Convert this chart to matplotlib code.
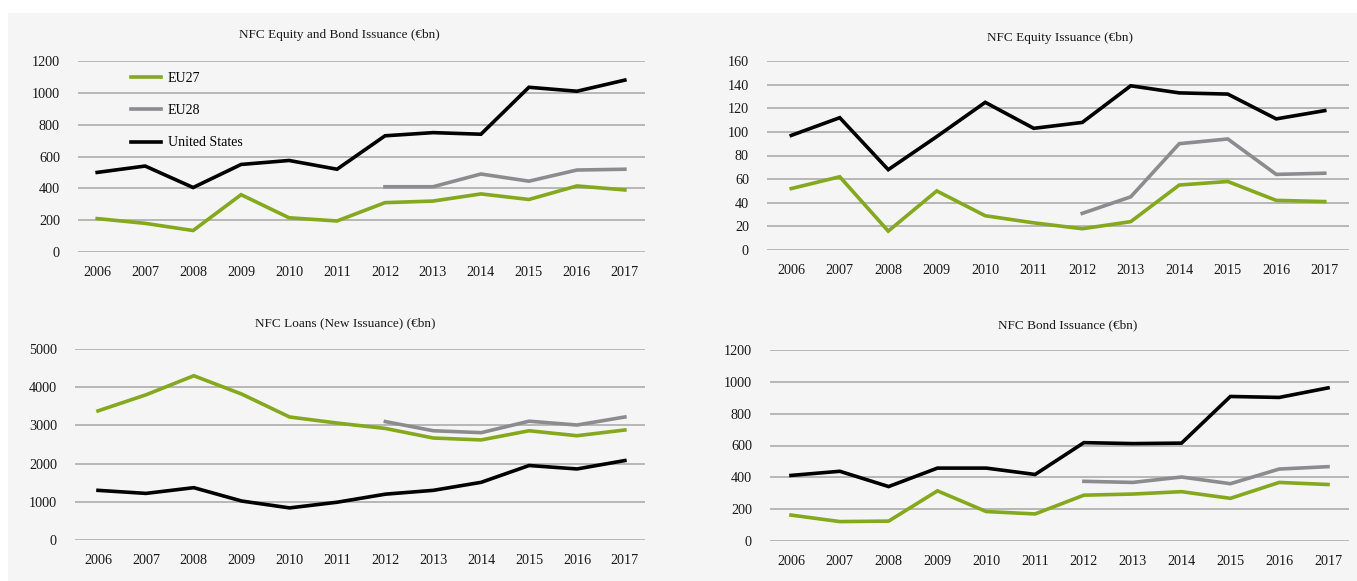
import matplotlib
matplotlib.use("Agg")
import matplotlib.pyplot as plt
from matplotlib.patches import Rectangle

years = [2006, 2007, 2008, 2009, 2010, 2011, 2012, 2013, 2014, 2015, 2016, 2017]
years_eu28 = [2012, 2013, 2014, 2015, 2016, 2017]

# NFC Equity and Bond Issuance
total_eu27 = [210, 180, 135, 360, 215, 195, 310, 320, 365, 330, 415, 390]
total_eu28 = [410, 410, 490, 445, 515, 520]
total_us = [500, 540, 405, 550, 575, 520, 730, 750, 740, 1035, 1010, 1080]

# NFC Equity Issuance
equity_eu27 = [52, 62, 16, 50, 29, 23, 18, 24, 55, 58, 42, 41]
equity_eu28 = [31, 45, 90, 94, 64, 65]
equity_us = [97, 112, 68, 96, 125, 103, 108, 139, 133, 132, 111, 118]

# NFC Loans (New Issuance)
loans_eu27 = [3380, 3800, 4300, 3820, 3220, 3060, 2920, 2670, 2620, 2860, 2730, 2880]
loans_eu28 = [3100, 2860, 2810, 3110, 3010, 3220]
loans_us = [1300, 1220, 1370, 1020, 840, 990, 1200, 1300, 1510, 1950, 1860, 2080]

# NFC Bond Issuance
bond_eu27 = [163, 122, 125, 315, 185, 170, 288, 295, 310, 268, 368, 355]
bond_eu28 = [375, 368, 402, 360, 452, 467]
bond_us = [412, 438, 342, 458, 458, 418, 618, 612, 615, 908, 902, 962]

titles = ["NFC Equity and Bond Issuance (\u20acbn)", "NFC Equity Issuance (\u20acbn)",
          "NFC Loans (New Issuance) (\u20acbn)", "NFC Bond Issuance (\u20acbn)"]
series_labels = ["EU27", "EU28", "United States"]

GREEN = "#84a81e"
GRAY = "#8c8c8e"
BLACK = "#000000"
BG = "#f5f5f5"
FONT = "Liberation Serif"

W, H = 1357, 581
fig = plt.figure(figsize=(W / 100, H / 100), dpi=100)
fig.patch.set_facecolor("white")
fig.patches.append(Rectangle((8 / W, 0), (W - 8) / W, (H - 13) / H,
                             transform=fig.transFigure, facecolor=BG,
                             edgecolor="none", zorder=-10))

def px_axes(x0, x1, ytop, ybot):
    return fig.add_axes([x0 / W, 1 - ybot / H, (x1 - x0) / W, (ybot - ytop) / H])

panels = [
    dict(box=(78, 645, 61, 252), xlim=(2005.6, 2017.42), ymax=1200, step=200,
         data=(total_eu27, total_eu28, total_us), title_y=35, title_x=339),
    dict(box=(767, 1349, 61, 250), xlim=(2005.5, 2017.5), ymax=160, step=20,
         data=(equity_eu27, equity_eu28, equity_us), title_y=38, title_x=1060),
    dict(box=(75, 645, 349, 540), xlim=(2005.52, 2017.42), ymax=5000, step=1000,
         data=(loans_eu27, loans_eu28, loans_us), title_y=323, title_x=345),
    dict(box=(770, 1349, 350, 541), xlim=(2005.57, 2017.43), ymax=1200, step=200,
         data=(bond_eu27, bond_eu28, bond_us), title_y=325, title_x=1068),
]

for i, p in enumerate(panels):
    ax = px_axes(*p["box"])
    ax.set_facecolor("none")
    eu27, eu28, us = p["data"]
    l1, = ax.plot(years, eu27, color=GREEN, lw=2.6, solid_joinstyle="miter", label=series_labels[0])
    l2, = ax.plot(years_eu28, eu28, color=GRAY, lw=2.6, solid_joinstyle="miter", label=series_labels[1])
    l3, = ax.plot(years, us, color=BLACK, lw=2.6, solid_joinstyle="miter", label=series_labels[2])
    ax.set_xlim(*p["xlim"])
    ax.set_ylim(0, p["ymax"])
    ax.set_yticks(range(0, p["ymax"] + 1, p["step"]))
    ax.set_xticks(years)
    ax.set_xticklabels([str(y) for y in years])
    ax.grid(axis="y", color="#a6a6a6", lw=1.1)
    ax.set_axisbelow(True)
    for s in ax.spines.values():
        s.set_visible(False)
    ax.tick_params(length=0, labelsize=10.2, colors="#1a1a1a")
    ax.tick_params(axis="x", pad=10)
    ax.tick_params(axis="y", pad=13)
    for lab in ax.get_xticklabels() + ax.get_yticklabels():
        lab.set_fontfamily(FONT)
    fig.text(p["title_x"] / W, 1 - p["title_y"] / H, titles[i], ha="center", va="center",
             fontsize=9.5, family=FONT, color="#1a1a1a")
    if i == 0:
        fig.legend(handles=[l1, l2, l3], loc="upper left",
                   bbox_to_anchor=(118 / W, 1 - 59 / H), frameon=False,
                   prop=dict(family=FONT, size=10), labelspacing=1.4,
                   handlelength=2.2, handletextpad=0.5)

fig.savefig("out.png", dpi=100, facecolor=fig.get_facecolor())
